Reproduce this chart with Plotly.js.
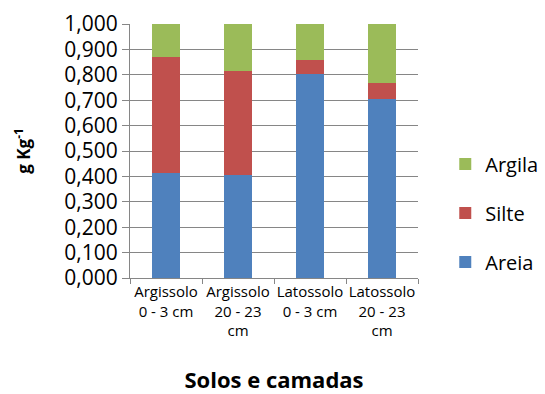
<!DOCTYPE html>
<html><head><meta charset="utf-8">
<script src="https://cdn.plot.ly/plotly-3.0.1.min.js"></script>
<style>html,body{margin:0;padding:0;background:#fff}</style>
</head><body>
<div id="chart" style="width:545px;height:394px"></div>
<script>
const categories = ["Argissolo<br>0 - 3 cm", "Argissolo<br>20 - 23<br>cm", "Latossolo<br>0 - 3 cm", "Latossolo<br>20 - 23<br>cm"];
const areia = [0.412, 0.404, 0.802, 0.705];
const silte = [0.457, 0.412, 0.057, 0.064];
const argila = [0.131, 0.184, 0.141, 0.231];
const seriesNames = ["Areia", "Silte", "Argila"];
const colors = ["#4F81BD", "#C0504D", "#9BBB59"];
const values = [areia, silte, argila];

const font = "'Open Sans', sans-serif";
const traces = values.map((v, i) => ({
  type: "bar", x: categories, y: v, name: seriesNames[i],
  marker: {color: colors[i], line: {width: 0}},
  legendgroup: seriesNames[i],
  legendrank: 3 - i,
  hoverinfo: "none"
}));

const layout = {
  width: 545, height: 394,
  margin: {l: 130, r: 127, t: 24, b: 116},
  paper_bgcolor: "#fff", plot_bgcolor: "#fff",
  barmode: "stack", bargap: 0.6,
  separators: ",.",
  font: {family: font, color: "#000"},
  showlegend: true,
  legend: {xref: "container", x: 0.817, xanchor: "left", y: 0.256, yanchor: "middle",
    traceorder: "grouped", tracegroupgap: 20,
    font: {size: 20, family: font}, itemwidth: 30},
  xaxis: {
    type: "category", showgrid: false, showline: true, linecolor: "#868686", linewidth: 1,
    ticks: "outside", tickson: "boundaries", ticklen: 5, tickcolor: "#868686",
    tickangle: 0,
    tickfont: {size: 15, family: font},
    title: {text: "<b>Solos e camadas</b>", font: {size: 22, family: font}, standoff: 36}
  },
  yaxis: {
    range: [0, 1], dtick: 0.1, tickformat: ".3f",
    showgrid: true, gridcolor: "#868686", gridwidth: 1,
    showline: true, linecolor: "#868686", zeroline: false,
    ticks: "outside", ticklen: 7, tickcolor: "#868686",
    tickfont: {size: 21, family: font},
    title: {text: "<b>g Kg<sup>-1</sup></b>", font: {size: 17, family: font}, standoff: 29}
  }
};
Plotly.newPlot("chart", traces, layout, {staticPlot: true, displayModeBar: false});
</script>
</body></html>
